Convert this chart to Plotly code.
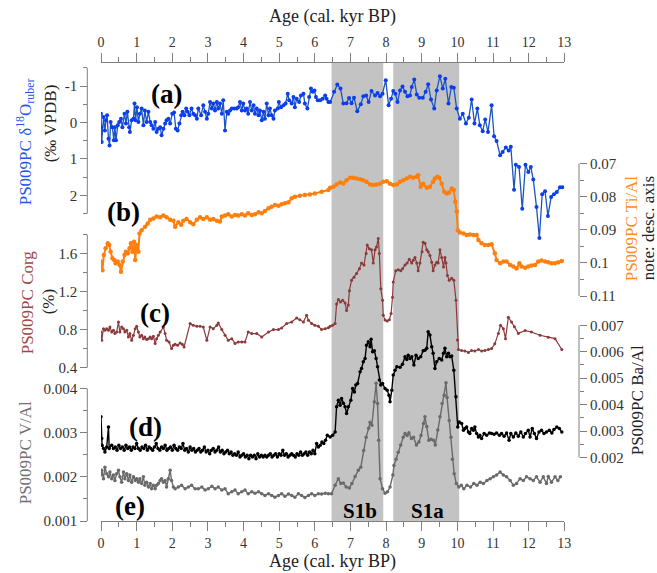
import plotly.graph_objects as go

# ---------------- data ----------------
# Sapropel S1 sub-units (age bounds, cal. kyr BP)
sapropel_bounds = [(6.47, 7.92), (8.20, 10.05)]
sapropel_labels = ["S1b", "S1a"]

# (a) PS009PC d18O ruber (permil VPDB)
d18o_age = [
    0.00,0.01,0.02,0.07,0.11,0.14,0.17,0.21,0.24,0.27,
    0.32,0.36,0.39,0.42,0.47,0.51,0.56,0.60,0.66,0.70,
    0.74,0.79,0.81,0.86,0.91,0.94,0.97,1.01,1.05,1.09,
    1.14,1.19,1.23,1.28,1.33,1.38,1.42,1.47,1.52,1.56,
    1.61,1.66,1.70,1.75,1.80,1.84,1.89,1.94,2.00,2.05,
    2.10,2.15,2.20,2.25,2.29,2.34,2.39,2.43,2.48,2.54,
    2.59,2.64,2.69,2.73,2.81,2.87,2.92,2.97,3.01,3.06,
    3.11,3.15,3.20,3.25,3.29,3.34,3.39,3.43,3.48,3.53,
    3.57,3.62,3.67,3.74,3.81,3.85,3.90,3.95,3.99,4.04,
    4.09,4.13,4.18,4.23,4.28,4.32,4.37,4.42,4.46,4.51,
    4.56,4.60,4.65,4.70,4.74,4.79,4.84,4.88,4.96,4.99,
    5.05,5.12,5.18,5.24,5.28,5.35,5.40,5.44,5.49,5.56,
    5.61,5.68,5.72,5.79,5.84,5.89,5.94,5.99,6.03,6.08,
    6.15,6.22,6.29,6.33,6.38,
    6.43,6.54,6.63,6.72,6.80,6.89,6.96,7.03,7.10,7.19,
    7.29,7.36,7.44,7.51,7.59,7.69,7.76,7.83,7.90,7.99,
    8.07,8.14,8.20,8.26,8.32,8.39,8.46,8.53,8.60,8.67,
    8.72,8.79,8.86,8.93,9.03,9.11,9.18,9.26,9.35,9.42,
    9.51,9.59,9.66,9.75,9.83,9.90,9.98,10.07,10.15,10.24,
    10.32,10.40,10.48,10.56,10.63,10.71,10.78,10.86,10.96,11.03,
    11.10,11.20,11.27,11.36,11.44,11.50,11.59,11.64,11.73,11.82,
    11.91,11.99,12.06,12.13,12.22,12.30,12.38,12.46,12.54,12.63,
    12.71,12.79,12.88,12.95]
d18o_val = [
    -0.24,0.13,0.54,-0.15,0.22,-0.06,-0.20,0.45,0.63,-0.01,
    0.13,0.49,0.13,0.49,0.08,-0.01,-0.10,0.13,-0.24,0.03,
    -0.29,0.13,0.26,-0.06,-0.10,-0.52,-0.06,-0.42,-0.01,-0.24,
    -0.38,0.08,-0.33,-0.01,-0.29,-0.01,0.08,0.17,-0.01,0.26,
    0.17,0.13,0.35,0.17,0.03,-0.06,-0.10,0.03,-0.24,-0.27,
    0.17,0.22,0.03,-0.20,-0.29,-0.20,-0.38,-0.29,-0.20,-0.38,
    -0.24,-0.20,-0.10,-0.38,-0.20,-0.47,-0.29,-0.10,-0.24,-0.56,
    -0.38,-0.52,-0.33,-0.56,-0.38,-0.52,-0.24,-0.61,0.22,-0.29,
    -0.24,-0.33,-0.38,-0.38,-0.38,-0.42,-0.56,-0.33,-0.52,-0.33,
    -0.38,-0.24,-0.56,-0.33,-0.47,-0.24,-0.38,-0.20,-0.33,-0.06,
    -0.29,-0.10,-0.52,-0.20,-0.38,-0.20,-0.10,-0.33,-0.38,-0.56,
    -0.42,-0.47,-0.52,-0.79,-0.61,-0.52,-0.70,-0.42,-0.65,-0.56,
    -0.74,-0.79,-0.52,-0.38,-0.70,-0.93,-0.84,-0.88,-0.70,-0.61,
    -0.61,-0.65,-0.74,-0.65,-0.56,
    -0.56,-0.84,-1.04,-0.93,-0.52,-0.53,-0.67,-0.53,-0.68,-0.31,
    -0.50,-0.72,-0.74,-0.56,-0.86,-0.74,-0.81,-0.72,-0.79,-1.16,
    -0.47,-0.65,-0.86,-0.79,-0.56,-0.88,-0.99,-0.84,-0.72,-0.74,
    -0.97,-1.18,-0.77,-0.68,-0.68,-0.84,-1.05,-0.63,-0.38,-0.88,
    -1.27,-0.93,-1.20,-0.52,-0.97,-0.95,-0.38,-0.10,-0.24,0.03,
    -0.13,-0.63,0.03,-0.38,0.08,0.24,-0.08,0.26,-0.47,0.38,
    0.51,0.90,0.81,0.69,0.77,0.67,1.85,1.16,1.22,2.37,
    1.16,1.36,1.22,1.57,2.32,3.17,1.97,1.89,2.57,2.05,
    1.97,1.91,1.78,1.78]

# (b) PS009PC Ti/Al
tial_age = [
    0.00,0.04,0.08,0.13,0.19,0.23,0.27,0.32,0.37,0.41,
    0.47,0.52,0.56,0.61,0.66,0.70,0.75,0.80,0.84,0.88,
    0.93,0.96,1.00,1.05,1.08,1.14,1.24,1.31,1.38,1.47,
    1.56,1.66,1.75,1.84,1.94,2.03,2.08,2.17,2.25,2.31,
    2.40,2.50,2.59,2.69,2.78,2.87,2.97,3.06,3.15,3.25,
    3.34,3.39,3.48,3.57,3.67,3.76,3.85,3.95,4.04,4.13,
    4.23,4.32,4.42,4.51,4.60,4.70,4.79,4.88,4.98,5.07,
    5.16,5.26,5.35,5.44,5.58,5.72,5.86,6.00,6.19,6.38,
    6.43,6.52,6.61,6.71,6.80,6.89,6.99,7.08,7.17,7.27,
    7.36,7.45,7.55,7.64,7.73,7.83,7.92,8.02,8.11,8.20,
    8.30,8.39,8.48,8.58,8.67,8.76,8.86,8.90,8.97,9.04,
    9.14,9.23,9.32,9.37,9.44,9.49,9.56,9.63,9.70,9.77,
    9.84,9.90,9.94,9.98,10.01,10.07,10.17,10.26,10.35,10.45,
    10.54,10.59,10.68,10.77,10.87,10.96,11.05,11.10,11.20,11.29,
    11.38,11.48,11.57,11.66,11.74,11.80,11.90,11.99,12.08,12.18,
    12.27,12.36,12.46,12.55,12.64,12.74,12.83,12.93]
tial_val = [
    0.0996,0.1022,0.0976,0.0956,0.0941,0.0946,0.0966,0.0986,0.0991,0.1001,
    0.0996,0.1006,0.1027,0.0996,0.0976,0.0966,0.0971,0.0956,0.0941,0.0966,
    0.0936,0.0991,0.0946,0.0966,0.0911,0.0901,0.0891,0.0881,0.0870,0.0866,
    0.0860,0.0862,0.0857,0.0862,0.0870,0.0873,0.0891,0.0877,0.0885,0.0873,
    0.0867,0.0877,0.0883,0.0870,0.0862,0.0867,0.0862,0.0870,0.0867,0.0873,
    0.0875,0.0860,0.0857,0.0853,0.0860,0.0855,0.0857,0.0853,0.0857,0.0850,
    0.0855,0.0853,0.0847,0.0850,0.0843,0.0835,0.0830,0.0825,0.0827,0.0823,
    0.0820,0.0817,0.0805,0.0800,0.0797,0.0795,0.0793,0.0790,0.0785,0.0780,
    0.0773,0.0770,0.0763,0.0757,0.0760,0.0750,0.0743,0.0743,0.0745,0.0747,
    0.0750,0.0755,0.0763,0.0765,0.0763,0.0761,0.0755,0.0753,0.0761,0.0765,
    0.0763,0.0755,0.0750,0.0745,0.0740,0.0743,0.0740,0.0735,0.0770,0.0761,
    0.0773,0.0770,0.0755,0.0745,0.0740,0.0743,0.0761,0.0785,0.0790,0.0787,
    0.0775,0.0780,0.0815,0.0845,0.0901,0.0908,0.0911,0.0916,0.0914,0.0916,
    0.0916,0.0931,0.0941,0.0946,0.0946,0.0944,0.0971,0.0991,0.1001,0.0996,
    0.0996,0.1006,0.1011,0.1017,0.1001,0.1011,0.1015,0.1011,0.1008,0.1006,
    0.0996,0.0993,0.0996,0.0998,0.1001,0.1001,0.0998,0.0994]

# (c) PS009PC Corg (%)
corg_age = [
    0.00,0.02,0.07,0.11,0.16,0.21,0.25,0.30,0.35,0.39,
    0.44,0.49,0.53,0.58,0.63,0.67,0.72,0.77,0.81,0.86,
    0.91,0.96,1.00,1.05,1.09,1.14,1.19,1.23,1.28,1.33,
    1.38,1.42,1.47,1.52,1.56,1.61,1.66,1.75,1.80,1.84,
    1.91,1.98,2.03,2.08,2.15,2.22,2.28,2.33,2.50,2.59,
    2.69,2.78,2.87,2.97,3.06,3.15,3.25,3.29,3.39,3.48,
    3.57,3.67,3.76,3.85,3.95,4.04,4.13,4.23,4.37,4.51,
    4.70,4.84,4.98,5.07,5.21,5.35,5.49,5.58,5.68,5.77,
    5.82,5.91,6.00,6.10,6.19,6.29,6.38,6.43,6.50,6.57,
    6.61,6.66,6.72,6.78,6.85,6.89,6.94,6.97,7.03,7.10,
    7.17,7.25,7.31,7.38,7.44,7.47,7.53,7.59,7.64,7.69,
    7.73,7.78,7.81,7.85,7.90,7.92,7.97,8.03,8.09,8.14,
    8.18,8.20,8.27,8.34,8.41,8.46,8.53,8.59,8.65,8.72,
    8.76,8.81,8.86,8.90,8.95,9.01,9.04,9.09,9.14,9.18,
    9.23,9.28,9.32,9.37,9.42,9.46,9.51,9.56,9.61,9.65,
    9.68,9.72,9.77,9.84,9.90,9.96,10.00,10.03,10.12,10.21,
    10.31,10.40,10.49,10.59,10.68,10.77,10.87,10.96,11.05,11.15,
    11.21,11.29,11.35,11.43,11.52,11.60,11.71,11.90,12.08,12.32,
    12.55,12.74,12.93]
corg_val = [
    0.775,0.687,0.81,0.793,0.81,0.793,0.827,0.775,0.793,0.758,
    0.775,0.88,0.775,0.827,0.81,0.775,0.793,0.722,0.758,0.687,
    0.74,0.81,0.835,0.775,0.722,0.74,0.705,0.722,0.695,0.705,
    0.722,0.705,0.73,0.653,0.705,0.74,0.775,0.827,0.758,0.687,
    0.67,0.60,0.635,0.645,0.635,0.66,0.645,0.617,0.863,0.845,
    0.835,0.835,0.827,0.687,0.827,0.81,0.845,0.87,0.80,0.74,
    0.687,0.705,0.653,0.67,0.67,0.67,0.775,0.758,0.758,0.722,
    0.775,0.80,0.80,0.817,0.863,0.88,0.922,0.905,0.88,0.95,
    0.898,0.863,0.845,0.835,0.80,0.81,0.82,0.835,0.845,0.863,
    1.07,1.116,1.09,1.11,1.08,1.00,1.06,1.21,1.32,1.35,
    1.39,1.44,1.50,1.48,1.60,1.69,1.65,1.64,1.50,1.64,
    1.67,1.76,1.60,1.23,1.11,0.95,0.90,0.89,0.905,0.97,
    1.14,1.30,1.42,1.43,1.42,1.44,1.48,1.50,1.54,1.50,
    1.53,1.56,1.50,1.42,1.50,1.62,1.72,1.71,1.64,1.62,
    1.58,1.51,1.42,1.48,1.51,1.50,1.64,1.56,1.46,1.56,
    1.50,1.37,1.32,1.34,1.32,1.11,0.69,0.59,0.58,0.575,
    0.56,0.58,0.575,0.59,0.575,0.58,0.59,0.60,0.65,0.76,
    0.845,0.81,0.705,0.93,0.88,0.83,0.76,0.79,0.775,0.74,
    0.72,0.705,0.59]

# (d) PS009PC Ba/Al
baal_age = [
    0.00,0.02,0.03,0.07,0.11,0.16,0.21,0.23,0.30,0.35,
    0.40,0.45,0.50,0.55,0.60,0.65,0.70,0.75,0.80,0.85,
    0.90,0.95,1.00,1.05,1.10,1.15,1.20,1.25,1.30,1.35,
    1.40,1.45,1.50,1.55,1.60,1.65,1.70,1.75,1.80,1.85,
    1.90,1.95,2.00,2.05,2.10,2.15,2.20,2.25,2.30,2.35,
    2.40,2.45,2.50,2.55,2.60,2.65,2.70,2.75,2.80,2.85,
    2.90,2.95,3.00,3.05,3.10,3.15,3.20,3.25,3.30,3.35,
    3.40,3.45,3.50,3.55,3.60,3.65,3.70,3.75,3.80,3.85,
    3.90,3.95,4.00,4.05,4.10,4.15,4.20,4.25,4.30,4.35,
    4.40,4.45,4.50,4.55,4.60,4.65,4.70,4.75,4.80,4.85,
    4.90,4.95,5.00,5.05,5.10,5.15,5.20,5.25,5.30,5.35,
    5.40,5.45,5.50,5.55,5.60,5.65,5.70,5.75,5.80,5.85,
    5.90,5.95,6.00,6.05,6.10,6.15,6.20,6.25,6.30,6.35,
    6.43,6.50,6.57,6.61,6.66,6.71,6.75,6.80,6.85,6.89,
    6.94,7.01,7.06,7.11,7.15,7.20,7.27,7.31,7.36,7.41,
    7.45,7.50,7.55,7.58,7.62,7.67,7.72,7.76,7.81,7.85,
    7.90,7.97,8.03,8.08,8.11,8.16,8.20,8.25,8.30,8.39,
    8.46,8.53,8.58,8.62,8.67,8.72,8.78,8.84,8.90,8.97,
    9.04,9.09,9.14,9.18,9.23,9.28,9.32,9.37,9.42,9.49,
    9.56,9.61,9.65,9.70,9.75,9.79,9.84,9.90,9.96,10.01,
    10.05,10.12,10.17,10.21,10.26,10.31,10.35,10.40,10.45,10.49,
    10.54,10.59,10.63,10.68,10.75,10.82,10.90,10.96,11.03,11.10,
    11.18,11.24,11.31,11.38,11.45,11.50,11.57,11.64,11.71,11.78,
    11.85,11.91,11.99,12.04,12.10,12.16,12.22,12.29,12.36,12.43,
    12.50,12.58,12.65,12.71,12.79,12.86,12.93]
baal_val = [
    0.00354,0.00272,0.00247,0.00234,0.00221,0.00240,0.00316,0.00234,0.00247,0.00234,
    0.00240,0.00228,0.00247,0.00234,0.00240,0.00228,0.00247,0.00234,0.00240,0.00228,
    0.00240,0.00234,0.00253,0.00234,0.00228,0.00240,0.00234,0.00247,0.00228,0.00240,
    0.00234,0.00228,0.00240,0.00253,0.00234,0.00228,0.00240,0.00234,0.00247,0.00228,
    0.00234,0.00240,0.00228,0.00247,0.00234,0.00228,0.00240,0.00234,0.00253,0.00228,
    0.00234,0.00221,0.00240,0.00228,0.00234,0.00221,0.00228,0.00234,0.00221,0.00228,
    0.00240,0.00221,0.00228,0.00215,0.00228,0.00234,0.00221,0.00228,0.00240,0.00221,
    0.00228,0.00215,0.00221,0.00228,0.00215,0.00221,0.00209,0.00215,0.00209,0.00221,
    0.00202,0.00209,0.00215,0.00202,0.00209,0.00196,0.00209,0.00202,0.00209,0.00196,
    0.00215,0.00202,0.00209,0.00202,0.00209,0.00202,0.00209,0.00215,0.00202,0.00209,
    0.00215,0.00202,0.00215,0.00209,0.00228,0.00209,0.00215,0.00202,0.00209,0.00215,
    0.00209,0.00202,0.00215,0.00209,0.00221,0.00209,0.00215,0.00221,0.00209,0.00221,
    0.00215,0.00228,0.00215,0.00253,0.00240,0.00247,0.00259,0.00253,0.00266,0.00284,
    0.00278,0.00284,0.00297,0.00392,0.00417,0.00398,0.00423,0.00405,0.00392,0.00367,
    0.00392,0.00417,0.00461,0.00448,0.00474,0.00480,0.00524,0.00537,0.00562,0.00575,
    0.00625,0.00638,0.00619,0.00647,0.00600,0.00604,0.00575,0.00543,0.00493,0.00474,
    0.00480,0.00461,0.00455,0.00436,0.00411,0.00455,0.00512,0.00530,0.00543,0.00541,
    0.00553,0.00581,0.00571,0.00587,0.00575,0.00581,0.00550,0.00587,0.00575,0.00581,
    0.00604,0.00606,0.00613,0.00676,0.00663,0.00619,0.00594,0.00537,0.00562,0.00575,
    0.00569,0.00594,0.00613,0.00581,0.00594,0.00581,0.00584,0.00530,0.00430,0.00316,
    0.00335,0.00329,0.00303,0.00310,0.00316,0.00297,0.00291,0.00310,0.00303,0.00316,
    0.00291,0.00278,0.00284,0.00272,0.00291,0.00284,0.00293,0.00291,0.00288,0.00293,
    0.00284,0.00291,0.00281,0.00293,0.00266,0.00291,0.00278,0.00293,0.00281,0.00297,
    0.00278,0.00291,0.00303,0.00278,0.00310,0.00291,0.00272,0.00297,0.00303,0.00291,
    0.00297,0.00303,0.00293,0.00306,0.00316,0.00310,0.00297]

# (e) PS009PC V/Al
val_age = [
    0.00,0.02,0.07,0.11,0.16,0.21,0.25,0.30,0.35,0.39,
    0.44,0.49,0.53,0.58,0.63,0.67,0.72,0.77,0.81,0.86,
    0.91,0.96,1.00,1.05,1.09,1.14,1.19,1.23,1.28,1.33,
    1.38,1.42,1.47,1.52,1.56,1.61,1.66,1.70,1.75,1.80,
    1.84,1.89,1.94,1.98,2.03,2.08,2.17,2.26,2.36,2.45,
    2.54,2.64,2.73,2.83,2.92,3.01,3.11,3.20,3.29,3.39,
    3.48,3.57,3.67,3.76,3.85,3.95,4.04,4.13,4.23,4.32,
    4.42,4.51,4.60,4.70,4.79,4.88,4.98,5.07,5.16,5.26,
    5.35,5.44,5.54,5.63,5.72,5.82,5.91,6.00,6.10,6.19,
    6.29,6.38,
    6.47,6.57,6.66,6.73,6.80,6.88,6.97,7.04,7.13,7.22,
    7.29,7.37,7.44,7.51,7.55,7.60,7.67,7.72,7.76,7.79,
    7.83,7.90,7.97,8.04,8.11,8.19,8.22,8.28,8.34,8.41,
    8.48,8.53,8.59,8.64,8.71,8.77,8.85,8.92,8.98,9.05,
    9.09,9.14,9.20,9.26,9.33,9.38,9.45,9.51,9.57,9.63,
    9.68,9.71,9.77,9.82,9.86,9.91,9.97,10.04,10.11,10.18,
    10.27,10.37,10.46,10.55,10.64,10.73,10.83,10.92,11.01,11.10,
    11.20,11.29,11.38,11.48,11.57,11.66,11.76,11.85,11.94,12.04,
    12.13,12.22,12.32,12.41,12.50,12.55,12.64,12.74,12.82,12.89]
val_val = [
    0.00204,0.00215,0.00196,0.00222,0.00207,0.00200,0.00211,0.00196,0.00204,0.00192,
    0.00207,0.00215,0.00200,0.00188,0.00211,0.00196,0.00207,0.00192,0.00204,0.00188,
    0.00200,0.00192,0.00196,0.00188,0.00196,0.00185,0.00200,0.00181,0.00188,0.00177,
    0.00185,0.00173,0.00181,0.00173,0.00181,0.00185,0.00192,0.00196,0.00188,0.00192,
    0.00177,0.00196,0.00215,0.00192,0.00177,0.00173,0.00177,0.00181,0.00173,0.00177,
    0.00181,0.00173,0.00173,0.00177,0.00170,0.00173,0.00179,0.00173,0.00177,0.00170,
    0.00173,0.00162,0.00166,0.00170,0.00162,0.00166,0.00170,0.00162,0.00166,0.00163,
    0.00166,0.00162,0.00158,0.00162,0.00158,0.00154,0.00158,0.00162,0.00156,0.00161,
    0.00158,0.00154,0.00162,0.00158,0.00153,0.00158,0.00162,0.00158,0.00162,0.00161,
    0.00163,0.00162,
    0.00162,0.00181,0.00196,0.00185,0.00186,0.00177,0.00175,0.00185,0.00201,0.00215,
    0.00222,0.00260,0.00290,0.00310,0.00324,0.00317,0.00370,0.00412,0.00366,0.00283,
    0.00196,0.00173,0.00163,0.00166,0.00177,0.00204,0.00226,0.00240,0.00256,0.00272,
    0.00290,0.00298,0.00294,0.00300,0.00287,0.00290,0.00272,0.00279,0.00294,0.00321,
    0.00336,0.00314,0.00283,0.00285,0.00283,0.00272,0.00306,0.00336,0.00366,0.00385,
    0.00413,0.00380,0.00328,0.00290,0.00240,0.00207,0.00185,0.00177,0.00181,0.00173,
    0.00181,0.00177,0.00185,0.00181,0.00188,0.00185,0.00192,0.00196,0.00200,0.00204,
    0.00211,0.00204,0.00200,0.00192,0.00181,0.00185,0.00196,0.00192,0.00200,0.00196,
    0.00192,0.00200,0.00188,0.00200,0.00185,0.00201,0.00188,0.00200,0.00192,0.00200]

# tick labels
age_ticks = list(range(0, 14))
age_minor = [0.5,1.5,2.5,3.5,4.5,5.5,6.5,7.5,8.5,9.5,10.5,11.5,12.5]
d18o_ticks = [-1, 0, 1, 2]
d18o_minor = [-1.5, -0.5, 0.5, 1.5, 2.5]
tial_ticks = [0.07, 0.08, 0.09, 0.10, 0.11]
tial_text = ["0.07", "0.08", "0.09", "0.1", "0.11"]
tial_minor = [0.075, 0.085, 0.095, 0.105]
corg_ticks = [0.4, 0.8, 1.2, 1.6]
corg_minor = [0.6, 1.0, 1.4, 1.8]
baal_ticks = [0.002, 0.003, 0.004, 0.005, 0.006, 0.007]
baal_minor = [0.0025, 0.0035, 0.0045, 0.0055, 0.0065]
val_ticks = [0.001, 0.002, 0.003, 0.004]
val_minor = [0.0015, 0.0025, 0.0035]

assert len(d18o_age) == len(d18o_val)
assert len(tial_age) == len(tial_val)
assert len(corg_age) == len(corg_val)
assert len(baal_age) == len(baal_val)
assert len(val_age) == len(val_val)

# ---------------- layout geometry (pixels) ----------------
W, H = 657, 573
TOP, BOT = 61.7, 520.7
XL, XR = 101.0, 564.3
LEFT_AX, RIGHT_AX = 87.3, 579.0
SERIF = "Liberation Serif"
AXC = "#7f7f7f"
TXC = "#333333"

def fx(p):
    return p / W

def fy(p):
    return (BOT - p) / (BOT - TOP)

def full_range(va, pa, vb, pb):
    s = (vb - va) / (pb - pa)
    return [va + (BOT - pa) * s, va + (TOP - pa) * s]

# panel calibration: (value, pixel) for both ends of each drawn axis line
panels = {
    "y":  dict(ends=(-1.5, 67.5, 2.5, 213.2), side="left"),
    "y2": dict(ends=(0.07, 163.3, 0.11, 295.7), side="right"),
    "y3": dict(ends=(1.8, 234.3, 0.4, 367.3), side="left"),
    "y4": dict(ends=(0.007, 325.0, 0.002, 457.3), side="right"),
    "y5": dict(ends=(0.004, 388.3, 0.001, 520.7), side="left"),
}

fig = go.Figure()

for (a, b) in sapropel_bounds:
    fig.add_shape(type="rect", xref="x", yref="paper", x0=a, x1=b, y0=0, y1=1,
                  fillcolor="#c3c3c3", line_width=0, layer="below")

def add_series(x, y, yaxis, lc, mc, ms, lw):
    fig.add_trace(go.Scatter(x=x, y=y, yaxis=yaxis, mode="lines+markers",
                             line=dict(color=lc, width=lw),
                             marker=dict(color=mc, size=ms),
                             showlegend=False, hoverinfo="skip"))

add_series(val_age, val_val, "y5", "#6a6a6a", "#6a6a6a", 3.5, 1.4)
add_series(baal_age, baal_val, "y4", "#000000", "#000000", 3.5, 1.4)
add_series(corg_age, corg_val, "y3", "#8b3a3a", "#8b3a3a", 3, 1.2)
add_series(tial_age, tial_val, "y2", "#ff7f0e", "#ff7f0e", 4.5, 2.0)
add_series(d18o_age, d18o_val, "y", "#1a55c0", "#0a3ef0", 4, 1.3)
# carrier for the top age axis (draws nothing)
fig.add_trace(go.Scatter(x=[0, 13], y=[0, 0], xaxis="x2", yaxis="y", mode="none",
                         showlegend=False, hoverinfo="skip"))

tickfont_y = dict(family=SERIF, size=15, color=TXC)
tickfont_x = dict(family=SERIF, size=14, color=TXC)

def yax(key, tickvals, ticktext, minor_vals):
    p = panels[key]
    va, pa, vb, pb = p["ends"]
    side = p["side"]
    xpos = fx(LEFT_AX if side == "left" else RIGHT_AX)
    d = dict(range=full_range(va, pa, vb, pb), domain=[0, 1], anchor="free",
             position=xpos, side=side,
             showgrid=False, zeroline=False, showline=False,
             ticks="outside", ticklen=7, tickwidth=1, tickcolor=AXC,
             tickmode="array", tickvals=tickvals, ticktext=ticktext,
             tickfont=tickfont_y, automargin=False,
             minor=dict(tickmode="array", tickvals=minor_vals, ticks="outside",
                        ticklen=4, tickwidth=1, tickcolor=AXC, showgrid=False))
    if key != "y":
        d["overlaying"] = "y"
    # axis line drawn only over the panel's own span
    fig.add_shape(type="line", xref="paper", yref=key, x0=xpos, x1=xpos,
                  y0=va, y1=vb, line=dict(color=AXC, width=1))
    return d

xcommon = dict(range=[0, 13], domain=[fx(XL), fx(XR)], anchor="free",
               showgrid=False, zeroline=False, showline=True, linecolor=AXC, linewidth=1,
               ticks="outside", ticklen=9, tickwidth=1, tickcolor=AXC,
               tickmode="array", tickvals=age_ticks, ticktext=[str(t) for t in age_ticks],
               tickfont=tickfont_x, automargin=False,
               minor=dict(tickmode="array", tickvals=age_minor, ticks="outside",
                          ticklen=5, tickwidth=1, tickcolor=AXC, showgrid=False))

fig.update_layout(
    width=W, height=H, template="none",
    margin=dict(l=0, r=0, t=TOP, b=H - BOT, pad=0),
    paper_bgcolor="white", plot_bgcolor="rgba(0,0,0,0)",
    font=dict(family=SERIF, color=TXC),
    showlegend=False,
    xaxis=dict(xcommon, side="bottom", position=0),
    xaxis2=dict(xcommon, side="top", position=1, overlaying="x"),
    yaxis=yax("y", d18o_ticks, [str(t) for t in d18o_ticks], d18o_minor),
    yaxis2=yax("y2", tial_ticks, tial_text, tial_minor),
    yaxis3=yax("y3", corg_ticks, ["0.4", "0.8", "1.2", "1.6"], corg_minor),
    yaxis4=yax("y4", baal_ticks, ["0.002", "0.003", "0.004", "0.005", "0.006", "0.007"], baal_minor),
    yaxis5=yax("y5", val_ticks, ["0.001", "0.002", "0.003", "0.004"], val_minor),
)

def note(text, px, py, size, color="#000000", angle=0):
    fig.add_annotation(text=text, xref="paper", yref="paper", x=fx(px), y=fy(py),
                       xanchor="center", yanchor="middle", showarrow=False,
                       textangle=angle, font=dict(family=SERIF, size=size, color=color))

# axis titles
note("Age (cal. kyr BP)", 332, 16, 18, "#222222")
note("Age (cal. kyr BP)", 332, 561, 18, "#222222")
note("PS009PC δ<sup>18</sup>O<sub>ruber</sub>", 25, 142, 17, "#1f56e6", -90)
note("(‰ VPDB)", 50, 123, 17, "#222222", -90)
note("PS009PC Corg", 27, 302, 17, "#a04848", -90)
note("(%)", 48, 302, 17, "#222222", -90)
note("PS009PC V/Al", 25, 453, 17, "#707070", -90)
note("PS009PC Ti/Al", 631, 228, 17, "#ff8c1a", -90)
note("note: desc. axis", 648, 228, 17, "#222222", -90)
note("PS009PC Ba/Al", 637, 400, 17, "#222222", -90)

# panel letters
note("<b>(a)</b>", 166, 94, 27)
note("<b>(b)</b>", 123, 212, 27)
note("<b>(c)</b>", 155, 313, 27)
note("<b>(d)</b>", 145, 427, 27)
note("<b>(e)</b>", 130, 506, 27)

# sapropel labels
for (a, b), lab, px in zip(sapropel_bounds, sapropel_labels, [360, 427]):
    note("<b>" + lab + "</b>", px, 511, 21)

# remove the browser's default 8px body margin so the figure sits at the page origin
fig.write_html("out.html", config={"displayModeBar": False},
               post_script="document.body.style.margin='0px';")
